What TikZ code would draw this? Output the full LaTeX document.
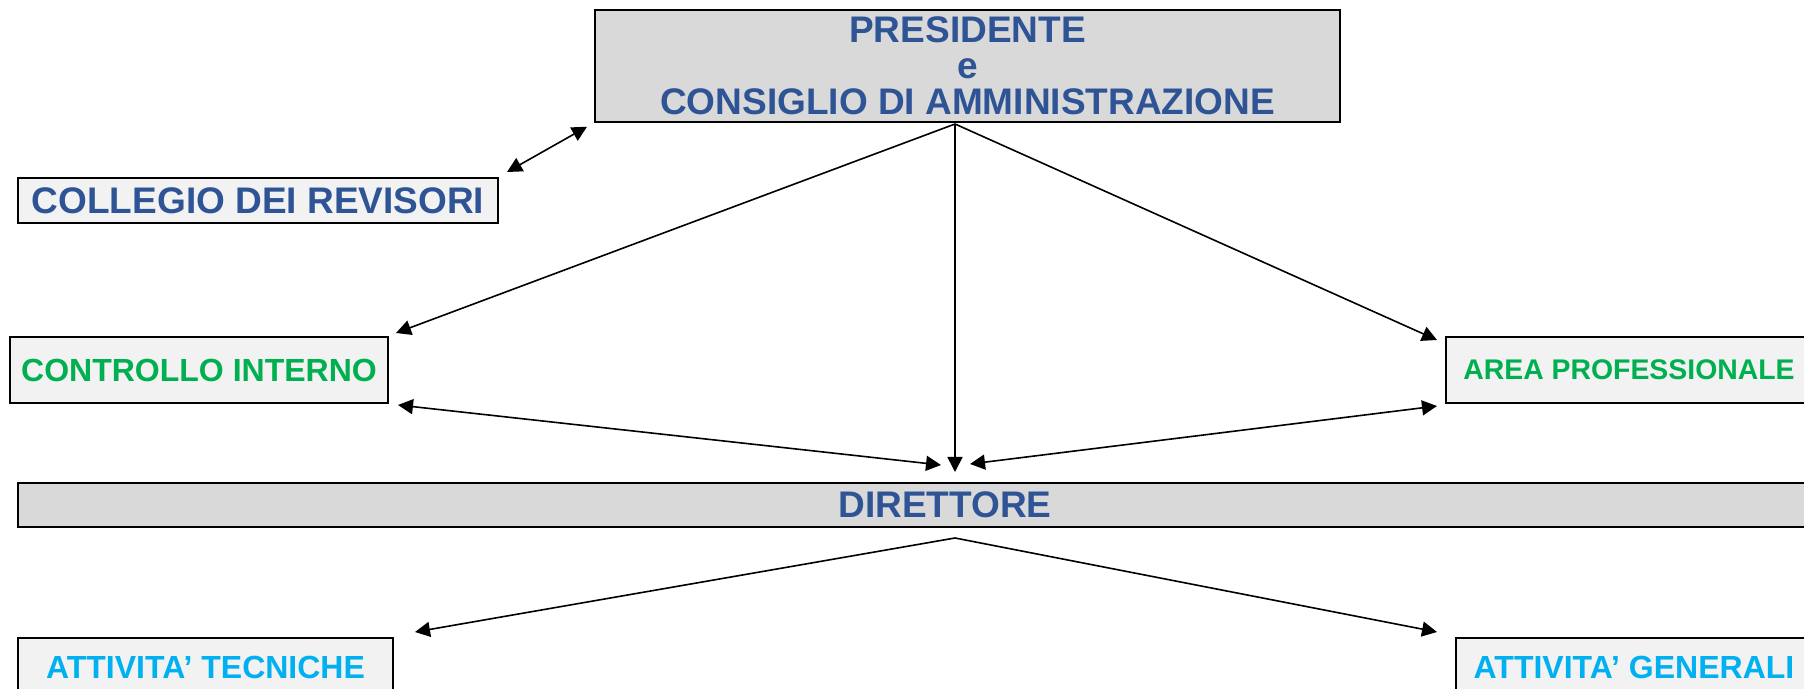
\documentclass[tikz,border=0pt]{standalone}
\usepackage{fontspec}
\setmainfont{Liberation Sans}
\usetikzlibrary{arrows.meta}
\definecolor{titleblue}{HTML}{2F5496}
\definecolor{ctrlgreen}{HTML}{00B050}
\definecolor{actblue}{HTML}{00B0F0}
\definecolor{boxdark}{HTML}{D9D9D9}
\definecolor{boxlight}{HTML}{F2F2F2}
\begin{document}
\begin{tikzpicture}[x=0.5pt,y=-0.5pt,
    box/.style={draw,line width=1pt,inner sep=0pt,fill=boxlight,font=\bfseries\fontsize{16}{18}\selectfont},
    dark/.style={box,fill=boxdark,text=titleblue,font=\bfseries\fontsize{18.5}{18}\selectfont},
    arrow/.style={line width=0.8pt,-{Triangle[length=7.5pt,width=7.5pt]}},
    both/.style={line width=0.8pt,{Triangle[length=7.5pt,width=7.5pt]}-{Triangle[length=7.5pt,width=7.5pt]}}]
    \useasboundingbox (0,0) rectangle (1804,689);
    \clip (0,0) rectangle (1804,689);
    % caselle
    \node[dark,align=center,minimum width=372.5pt,minimum height=55.75pt] (pres) at (967.5,66) {PRESIDENTE\\e\\CONSIGLIO DI AMMINISTRAZIONE};
    \node[box,text=titleblue,font=\bfseries\fontsize{18.5}{18}\selectfont,minimum width=240pt,minimum height=22.5pt] (coll) at (258,200.5) {COLLEGIO DEI REVISORI};
    \node[box,text=ctrlgreen,minimum width=189pt,minimum height=33pt] (ctrl) at (199,370) {CONTROLLO INTERNO};
    \node[box,text=ctrlgreen,font=\bfseries\fontsize{14.2}{18}\selectfont,minimum width=183pt,minimum height=33pt] (area) at (1629,370) {AREA PROFESSIONALE};
    \node[dark,minimum width=927pt,minimum height=22pt] (dir) at (945,505) {DIRETTORE};
    \node[box,text=actblue,minimum width=187.5pt,minimum height=29pt] (tec) at (205.5,667) {ATTIVITA’ TECNICHE};
    \node[box,text=actblue,minimum width=178pt,minimum height=29pt] (gen) at (1634,667) {ATTIVITA’ GENERALI};
    % punti di raccordo
    \coordinate (hub) at (955,124);
    \coordinate (dirtop) at (955,472);
    \coordinate (dirL) at (941,465);
    \coordinate (dirR) at (970,464);
    \coordinate (dirbot) at (955,538);
    % frecce
    \draw[both] ([shift={(8,-5)}]coll.north east) -- ([shift={(-7,4)}]pres.south west);
    \draw[arrow] (hub) -- ([shift={(7,-3)}]ctrl.north east);
    \draw[arrow] (hub) -- (dirtop);
    \draw[arrow] (hub) -- ([shift={(-8,4)}]area.north west);
    \draw[both] ([shift={(9,1)}]ctrl.south east) -- (dirL);
    \draw[both] ([shift={(-8,2)}]area.south west) -- (dirR);
    \draw[arrow] (dirbot) -- ([shift={(21,-5)}]tec.north east);
    \draw[arrow] (dirbot) -- ([shift={(-18,-5)}]gen.north west);
\end{tikzpicture}
\end{document}
